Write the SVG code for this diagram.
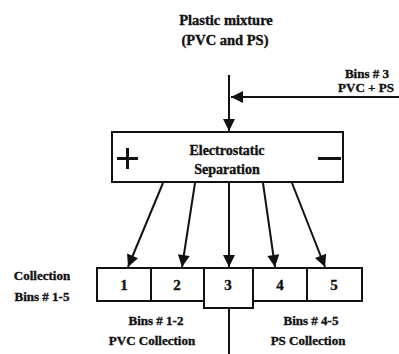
<svg xmlns="http://www.w3.org/2000/svg" width="399" height="354" viewBox="0 0 399 354">
<style>
text{font-family:'Liberation Serif','DejaVu Serif',serif;font-weight:bold;fill:#111;stroke:#111;stroke-width:0.35;text-anchor:middle}
.t{font-size:14.5px}
.s{font-size:13px}
.e{font-size:14px}
.n{font-size:15px}
.ln{stroke:#111;stroke-width:2;fill:none}
.bx{stroke:#111;stroke-width:2;fill:#fff}
</style>
<defs>
<marker id="ah" viewBox="0 0 10 10" refX="10" refY="5" markerWidth="7.5" markerHeight="6" markerUnits="strokeWidth" orient="auto">
<path d="M0,0 L10,5 L0,10 Z" fill="#111"/>
</marker>
</defs>
<rect width="399" height="354" fill="#fff"/>
<g id="input">
<text class="t" x="226" y="25">Plastic mixture</text>
<text class="t" x="225" y="45">(PVC and PS)</text>
</g>
<g id="recycle">
<text class="s" x="367" y="78">Bins # 3</text>
<text class="s" x="366" y="92">PVC + PS</text>
</g>
<g id="separator">
<rect class="bx" x="112" y="132" width="231" height="50"/>
<text class="e" x="227" y="155">Electrostatic</text>
<text class="e" x="227" y="174">Separation</text>
<path d="M117,158.5 H138 M127.5,148 V169" stroke="#111" stroke-width="3"/>
<path d="M318,158.5 H341" stroke="#111" stroke-width="3"/>
</g>
<g id="bins">
<rect class="bx" x="97" y="268" width="54" height="33"/>
<rect class="bx" x="151" y="268" width="53" height="33"/>
<rect class="bx" x="204" y="268" width="49" height="40"/>
<rect class="bx" x="253" y="268" width="54" height="33"/>
<rect class="bx" x="307" y="268" width="55" height="33"/>
<text class="n" x="124" y="290">1</text>
<text class="n" x="177" y="290">2</text>
<text class="n" x="228" y="290">3</text>
<text class="n" x="280" y="290">4</text>
<text class="n" x="334" y="290">5</text>
</g>
<g id="labels">
<text class="s" x="42" y="280">Collection</text>
<text class="s" x="42" y="301">Bins # 1-5</text>
<text class="s" x="156" y="325">Bins # 1-2</text>
<text class="s" x="152" y="345">PVC Collection</text>
<text class="s" x="311" y="325">Bins # 4-5</text>
<text class="s" x="308" y="345">PS Collection</text>
</g>
<g id="connectors">
<path class="ln" d="M229,75 V131" marker-end="url(#ah)"/>
<path class="ln" d="M399,97 H231" marker-end="url(#ah)"/>
<path class="ln" d="M163,183 L128,267" marker-end="url(#ah)"/>
<path class="ln" d="M195,183 L182,267" marker-end="url(#ah)"/>
<path class="ln" d="M229,183 V267" marker-end="url(#ah)"/>
<path class="ln" d="M263,183 L275,267" marker-end="url(#ah)"/>
<path class="ln" d="M292,183 L325,267" marker-end="url(#ah)"/>
<path class="ln" d="M229,308 V354"/>
</g>
</svg>
